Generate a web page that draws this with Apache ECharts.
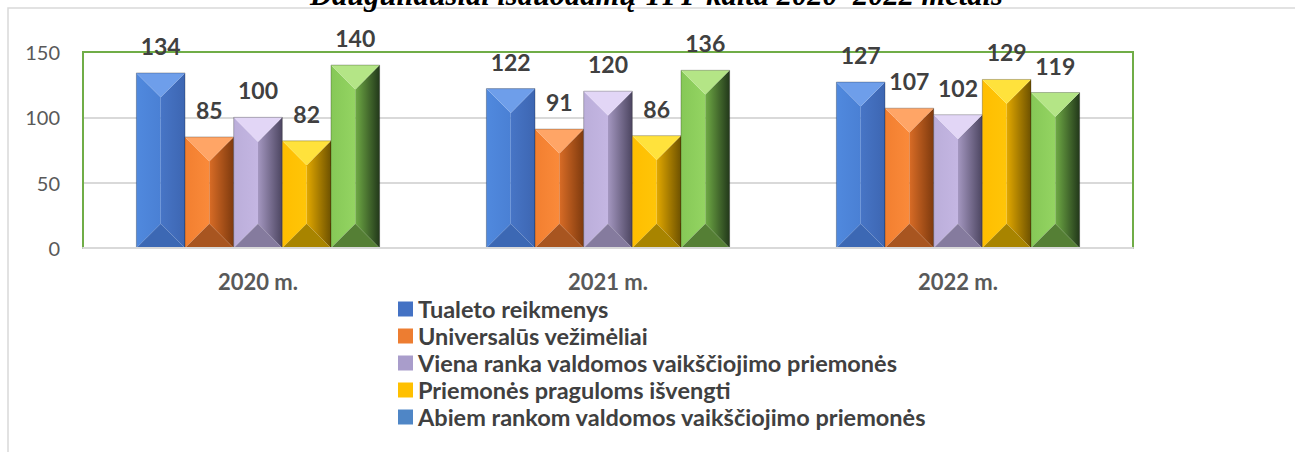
<!DOCTYPE html>
<html>
<head>
<meta charset="utf-8">
<script src="https://cdn.jsdelivr.net/npm/echarts@6/dist/echarts.min.js"></script>
<style>
  html, body { margin: 0; padding: 0; background: #fff; }
  #chart { width: 1295px; height: 452px; }
</style>
</head>
<body>
<div id="chart"></div>
<script>
// chart values
const years = ['2020 m.', '2021 m.', '2022 m.']
const seriesNames = [
  'Tualeto reikmenys',
  'Universalūs vežimėliai',
  'Viena ranka valdomos vaikščiojimo priemonės',
  'Priemonės praguloms išvengti',
  'Abiem rankom valdomos vaikščiojimo priemonės'
]
const tualeto = [134, 122, 127]
const vezimeliai = [85, 91, 107]
const vienaRanka = [100, 120, 102]
const praguloms = [82, 86, 129]
const abiemRankom = [140, 136, 119]
const yTicks = [0, 50, 100, 150]
const titleText = 'Dauguliausiai išduodamų TPP kaita 2020–2022 metais'

const allValues = [tualeto, vezimeliai, vienaRanka, praguloms, abiemRankom]

// bevel colours: top, left, right (light->dark), bottom
const faces = [
  { top: '#6E9EEA', left: ['#5089DE', '#4A80D4'], right: ['#4775C6', '#3D66B2'], bottom: '#3C68B4', legend: '#4472C4' },
  { top: '#FFA566', left: ['#F27F30', '#FA8A3A'], right: ['#D96C26', '#7E3A0E'], bottom: '#A85520', legend: '#ED7D31' },
  { top: '#E2D6F6', left: ['#BBAEDA', '#C4B6E2'], right: ['#A497C0', '#4C4560'], bottom: '#857B9E', legend: '#A99DCB' },
  { top: '#FFE23C', left: ['#FFBE00', '#FFC508'], right: ['#E2A800', '#6E5200'], bottom: '#A88400', legend: '#FFC000' },
  { top: '#B4E586', left: ['#86C857', '#94D462'], right: ['#6FAA45', '#22381A'], bottom: '#557F35', legend: '#4F86C6' }
]

const groupFrac = 0.695
const font = 'Lato, "Open Sans", sans-serif'

function makeRender (s) {
  const f = faces[s]
  return function (params, api) {
    const cat = api.value(0)
    const v = api.value(1)
    const base = api.coord([cat, 0])
    const top = api.coord([cat, v])
    const band = api.size([1, 0])[0]
    const groupW = band * groupFrac
    const barW = groupW / 5
    const x0 = base[0] - groupW / 2 + s * barW
    const x1 = x0 + barW
    const xm = (x0 + x1) / 2
    const y0 = top[1]
    const y1 = base[1]
    const b = Math.min(barW / 2, (y1 - y0) / 2)
    const lin = (c) => new echarts.graphic.LinearGradient(0, 0, 1, 0, [
      { offset: 0, color: c[0] }, { offset: 1, color: c[1] }
    ])
    return {
      type: 'group',
      children: [
        { type: 'polygon', shape: { points: [[x0, y0], [xm, y0 + b], [xm, y1 - b], [x0, y1]] }, style: { fill: lin(f.left) } },
        { type: 'polygon', shape: { points: [[xm, y0 + b], [x1, y0], [x1, y1], [xm, y1 - b]] }, style: { fill: lin(f.right) } },
        { type: 'polygon', shape: { points: [[x0, y0], [x1, y0], [xm, y0 + b]] }, style: { fill: f.top } },
        { type: 'polygon', shape: { points: [[x0, y1], [x1, y1], [xm, y1 - b]] }, style: { fill: f.bottom } },
        { type: 'rect', shape: { x: x0, y: y0, width: barW, height: y1 - y0 }, style: { fill: null, stroke: 'rgba(0,0,0,0.25)', lineWidth: 1 } },
        {
          type: 'text',
          x: xm,
          y: y0 - 27,
          style: {
            text: String(v),
            align: 'center',
            verticalAlign: 'middle',
            font: 'bold 23px ' + font,
            fill: '#404040'
          }
        }
      ]
    }
  }
}

const chart = echarts.init(document.getElementById('chart'), null, { renderer: 'svg' })

const series = seriesNames.map((name, s) => ({
  name: name,
  type: 'custom',
  renderItem: makeRender(s),
  itemStyle: { color: faces[s].legend },
  encode: { x: 0, y: 1 },
  data: allValues[s].map((v, i) => [i, v]),
  clip: false,
  z: 3
}))

chart.setOption({
  animation: false,
  title: {
    text: titleText,
    left: 305,
    top: -25,
    textStyle: {
      fontFamily: '"Liberation Serif", "DejaVu Serif", serif',
      fontStyle: 'italic',
      fontWeight: 'bold',
      fontSize: 30.5,
      color: '#000'
    }
  },
  graphic: [
    {
      type: 'polyline',
      shape: { points: [[8, 452], [8, 8], [1295, 8]] },
      style: { stroke: '#d9d9d9', lineWidth: 1.5, fill: null },
      z: 0
    }
  ],
  grid: {
    left: 83,
    right: 162,
    top: 52,
    bottom: 204,
    show: true,
    borderColor: '#70AD47',
    borderWidth: 2,
    backgroundColor: 'transparent',
    z: 2
  },
  legend: {
    orient: 'vertical',
    left: 393,
    top: 292,
    itemWidth: 15,
    itemHeight: 15,
    itemGap: 3,
    icon: 'rect',
    data: seriesNames.map((n, s) => ({ name: n, itemStyle: { color: faces[s].legend } })),
    textStyle: {
      fontFamily: font,
      fontWeight: 'bold',
      fontSize: 23.5,
      color: '#404040'
    }
  },
  xAxis: {
    type: 'category',
    data: years,
    z: 3,
    axisLine: { show: true, lineStyle: { color: '#d9d9d9', width: 2 } },
    axisTick: { show: false },
    axisLabel: {
      margin: 22,
      fontFamily: font,
      fontWeight: 'bold',
      fontSize: 22,
      color: '#595959'
    }
  },
  yAxis: {
    type: 'value',
    min: yTicks[0],
    max: yTicks[yTicks.length - 1],
    interval: yTicks[1] - yTicks[0],
    z: 1,
    axisLine: { show: true, lineStyle: { color: '#70AD47', width: 2 } },
    axisTick: { show: false },
    splitLine: { showMinLine: false, showMaxLine: false, lineStyle: { color: '#d9d9d9', width: 2 } },
    axisLabel: {
      margin: 23,
      fontFamily: font,
      fontSize: 20,
      color: '#595959'
    }
  },
  series: series
})
</script>
</body>
</html>
